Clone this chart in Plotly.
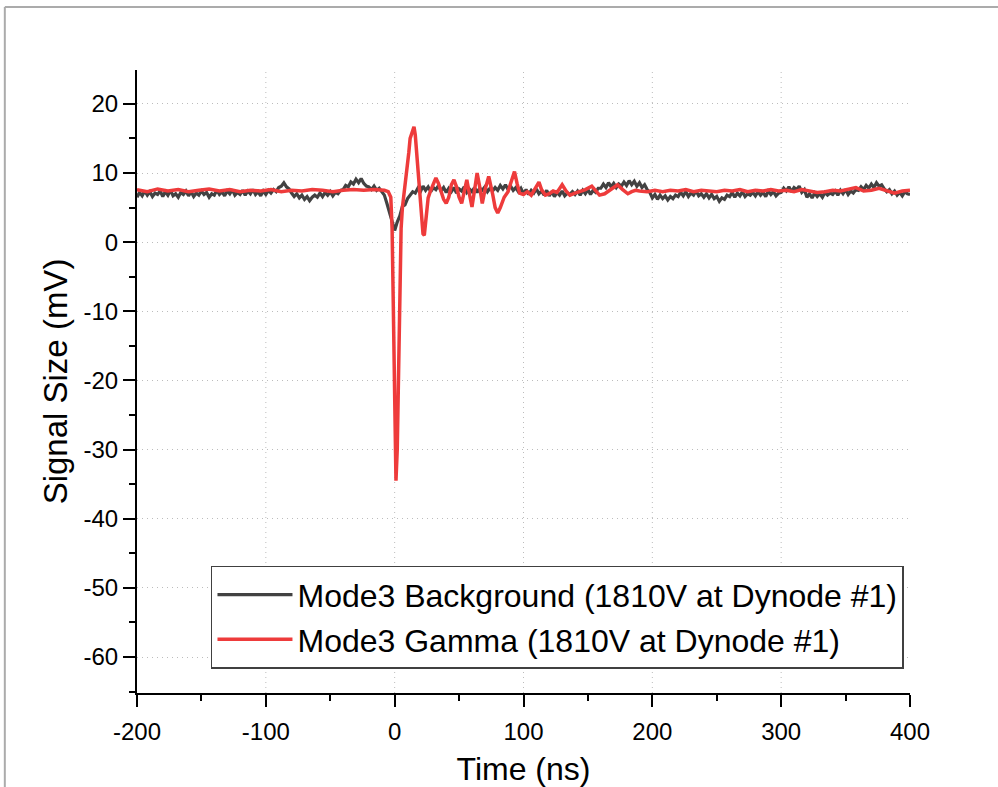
import numpy as np
import plotly.graph_objects as go

# ---- background trace (dark grey), sampled every 2 ns from -200 to 400 ns ----
bg_time = np.arange(-200, 401, 2)
bg_signal = [
    6.5, 7.2, 6.7, 7.4, 6.8, 7.3, 6.6, 7.1, 6.9, 7.4,
    6.6, 7.3, 6.8, 7.5, 6.7, 7.0, 6.5, 7.2, 6.9, 7.4,
    6.7, 7.3, 6.6, 7.1, 6.8, 7.4, 6.9, 7.2, 6.5, 7.0,
    6.8, 7.5, 6.9, 7.3, 6.7, 7.4, 7.0, 7.6, 6.8, 7.2,
    6.9, 7.5, 6.8, 7.4, 7.0, 7.6, 6.9, 7.3, 6.7, 7.4,
    6.9, 7.5, 7.1, 7.6, 7.3, 7.9, 8.1, 8.6, 8.0, 7.7,
    7.1, 6.6, 7.0, 6.4, 6.8, 6.2, 6.6, 6.0, 6.5, 6.8,
    6.5, 7.1, 6.6, 7.2, 6.8, 7.3, 6.7, 7.2, 7.0, 7.5,
    7.6, 8.2, 8.0, 8.7, 8.4, 9.1, 8.6, 9.2, 8.5, 8.1,
    8.0, 7.6, 8.1, 7.5, 7.8, 7.2, 6.8, 5.6, 4.4, 3.0,
    1.7, 2.9, 3.8, 5.2, 5.4, 6.3, 6.8, 7.3, 7.1, 7.8,
    7.3, 8.1, 7.5, 8.0, 7.3, 7.9, 7.6, 8.2, 7.4, 7.9,
    7.2, 7.8, 7.3, 7.9, 7.1, 7.7, 7.4, 8.0, 7.2, 7.7,
    7.3, 7.9, 7.2, 7.8, 7.5, 8.0, 7.3, 7.8, 7.4, 7.9,
    7.5, 8.2, 7.7, 8.3, 7.6, 8.1, 7.5, 7.9, 7.3, 7.8,
    7.0, 7.6, 6.9, 7.5, 7.1, 7.7, 7.0, 7.4, 6.8, 7.5,
    6.7, 7.3, 6.6, 7.2, 6.8, 7.4, 6.7, 7.1, 6.9, 7.3,
    6.9, 7.4, 6.8, 7.5, 7.0, 7.6, 6.9, 7.5, 7.2, 7.8,
    7.8, 8.4, 7.9, 8.6, 8.0, 8.5, 7.9, 8.4, 8.1, 8.7,
    8.2, 8.9, 8.3, 8.8, 8.1, 8.6, 7.9, 8.3, 7.6, 7.2,
    6.4, 6.9, 6.2, 6.8, 6.3, 6.7, 6.1, 6.6, 6.3, 6.8,
    6.6, 7.2, 6.7, 7.3, 6.6, 7.1, 6.8, 7.4, 6.7, 7.0,
    6.5, 7.0, 6.4, 6.9, 6.3, 6.6, 5.9, 6.4, 6.2, 6.8,
    6.6, 7.2, 6.5, 7.1, 6.7, 7.3, 6.6, 7.0, 6.8, 7.2,
    6.7, 7.3, 6.8, 7.2, 6.6, 7.4, 6.9, 7.3, 6.7, 7.1,
    7.2, 7.8, 7.4, 8.0, 7.3, 7.9, 7.6, 8.1, 7.2, 7.6,
    6.5, 7.0, 6.4, 7.1, 6.6, 7.0, 6.5, 7.2, 6.8, 7.1,
    6.9, 7.4, 6.8, 7.5, 7.0, 7.6, 6.9, 7.4, 7.1, 7.6,
    7.5, 8.0, 7.6, 8.2, 7.8, 8.4, 7.9, 8.6, 8.1, 8.3,
    7.7, 7.3, 7.6, 7.0, 7.4, 6.8, 7.2, 6.7, 7.3, 7.0,
    6.9,
]

# ---- gamma trace (red) ----
gamma_time = [
    -200, -192, -184, -176, -168, -160, -152, -144, -136, -128,
    -120, -112, -104, -96, -88, -80, -72, -64, -56, -48,
    -40, -32, -24, -16, -8,
    -5, -3, -2, -1, 0, 1, 2, 3, 4, 5,
    6, 7, 8, 9, 10, 11, 12, 13, 14, 15,
    16, 17, 18, 19, 20, 21, 22, 23, 24, 25,
    26, 28, 30, 32, 34, 36, 38, 40, 42, 44,
    46, 48, 50, 52, 54, 56, 58, 60, 62, 64,
    66, 68, 70, 73, 76, 78, 80, 82, 85, 88,
    90, 93, 95, 97, 100, 103, 106, 109, 112, 114,
    117, 120, 123, 126, 130, 133, 136, 140, 144, 148,
    153, 156, 159, 163, 167, 170, 173, 177, 181, 184,
    187, 190, 196, 202, 208, 214, 220, 226, 232, 238,
    244, 250, 256, 262, 268, 274, 280, 286, 292, 298,
    304, 310, 316, 322, 328, 334, 340, 346, 352, 358,
    364, 370, 376, 382, 388, 394, 400,
]
gamma_signal = [
    7.6, 7.3, 7.7, 7.4, 7.6, 7.3, 7.5, 7.7, 7.4, 7.6,
    7.3, 7.5, 7.4, 7.6, 7.3, 7.5, 7.4, 7.6, 7.5, 7.3,
    7.5, 7.6, 7.5, 7.6, 7.5,
    7.3, 6.5, 2.0, -10.0, -25.0, -34.5, -30.0, -18.0, -6.0, 2.0,
    5.0, 6.5, 7.5, 9.0, 11.0, 13.0, 15.0, 15.5, 16.0, 16.7,
    15.5, 13.0, 10.5, 8.0, 5.0, 2.5, 1.2, 1.0, 2.5, 5.0,
    6.4, 7.5, 8.5, 9.3, 8.5, 7.2, 6.2, 5.6, 6.5, 8.3,
    9.0, 8.0, 6.5, 5.6, 7.5, 9.0, 7.0, 5.1, 7.5, 10.0,
    8.0, 5.6, 7.5, 9.5, 7.0, 5.0, 4.2, 5.0, 6.5, 7.3,
    8.5, 10.2, 8.5, 7.1, 6.9, 7.3, 6.8, 7.8, 8.7, 7.6,
    6.8, 7.0, 7.4, 7.2, 8.3, 7.4, 6.8, 7.1, 7.3, 7.6,
    8.1, 7.5, 6.8, 7.0, 7.5, 7.8, 8.3, 7.6, 7.0, 7.3,
    7.5, 7.4, 7.3, 7.5, 7.3, 7.5, 7.4, 7.6, 7.3, 7.5,
    7.4, 7.3, 7.5, 7.4, 7.6, 7.3, 7.5, 7.4, 7.6, 7.4,
    7.5, 7.3, 7.6, 7.4, 7.2, 7.3, 7.5, 7.4, 7.6, 7.9,
    7.4, 7.5, 7.8, 7.4, 7.1, 7.4, 7.5,
]

x_ticks = [-200, -100, 0, 100, 200, 300, 400]
x_tick_labels = ["-200", "-100", "0", "100", "200", "300", "400"]
x_grid = [-100, 0, 100, 200, 300]
y_ticks = [-60, -50, -40, -30, -20, -10, 0, 10, 20]
y_tick_labels = ["-60", "-50", "-40", "-30", "-20", "-10", "0", "10", "20"]

GREY = "#424242"
RED = "#EE3B3B"
GRID = "#bcbcbc"
FONT = "Arial, Liberation Sans"

fig = go.Figure()
fig.add_trace(go.Scatter(
    x=bg_time, y=bg_signal, mode="lines",
    name="Mode3 Background (1810V at Dynode #1)",
    line=dict(color=GREY, width=3.2),
))
fig.add_trace(go.Scatter(
    x=gamma_time, y=gamma_signal, mode="lines",
    name="Mode3 Gamma (1810V at Dynode #1)",
    line=dict(color=RED, width=3.5),
))

axis_common = dict(
    showline=True, linecolor="black", linewidth=2,
    ticks="outside", ticklen=12, tickwidth=2, tickcolor="black",
    zeroline=False, automargin=False,
    tickfont=dict(family=FONT, size=24, color="black"),
)

fig.update_xaxes(
    range=[-200, 400], tickvals=x_ticks, ticktext=x_tick_labels,
    showgrid=False, ticklabelstandoff=4,
    minor=dict(ticks="outside", ticklen=6, tickwidth=2, tickcolor="black",
               dtick=50, tick0=-200, showgrid=False),
    title=dict(text="Time (ns)", standoff=20,
               font=dict(family=FONT, size=32, color="black")),
    **axis_common,
)
fig.update_yaxes(
    range=[-65.2, 24.9], tickvals=y_ticks, ticktext=y_tick_labels,
    showgrid=True, gridcolor=GRID, gridwidth=1, griddash="1px,4px",
    minor=dict(ticks="outside", ticklen=6, tickwidth=2, tickcolor="black",
               dtick=5, tick0=0, showgrid=False),
    title=dict(text="Signal Size (mV)", standoff=6,
               font=dict(family=FONT, size=33, color="black")),
    **axis_common,
)

# vertical dotted grid at the interior major ticks
for gx in x_grid:
    fig.add_shape(type="line", xref="x", yref="paper",
                  x0=gx, x1=gx, y0=0, y1=1, layer="below",
                  line=dict(color=GRID, width=1, dash="1px,4px"))

# page frame along the top and left edges
fig.add_shape(type="line", xref="paper", yref="paper",
              x0=-0.171, x1=1.12, y0=1.101, y1=1.101,
              line=dict(color="#ababab", width=2))
fig.add_shape(type="line", xref="paper", yref="paper",
              x0=-0.171, x1=-0.171, y0=1.101, y1=-0.16,
              line=dict(color="#ababab", width=2))

fig.update_layout(
    width=998, height=787,
    margin=dict(l=137, r=88, t=70, b=94, autoexpand=False),
    paper_bgcolor="white", plot_bgcolor="white",
    font=dict(family=FONT, color="black"),
    legend=dict(
        x=0.0957, y=0.204, xanchor="left", yanchor="top",
        bgcolor="white", bordercolor="#404040", borderwidth=1.5,
        font=dict(family=FONT, size=32, color="black"),
        itemwidth=75, tracegroupgap=0,
    ),
    showlegend=True,
)

fig.write_html("out.html")
